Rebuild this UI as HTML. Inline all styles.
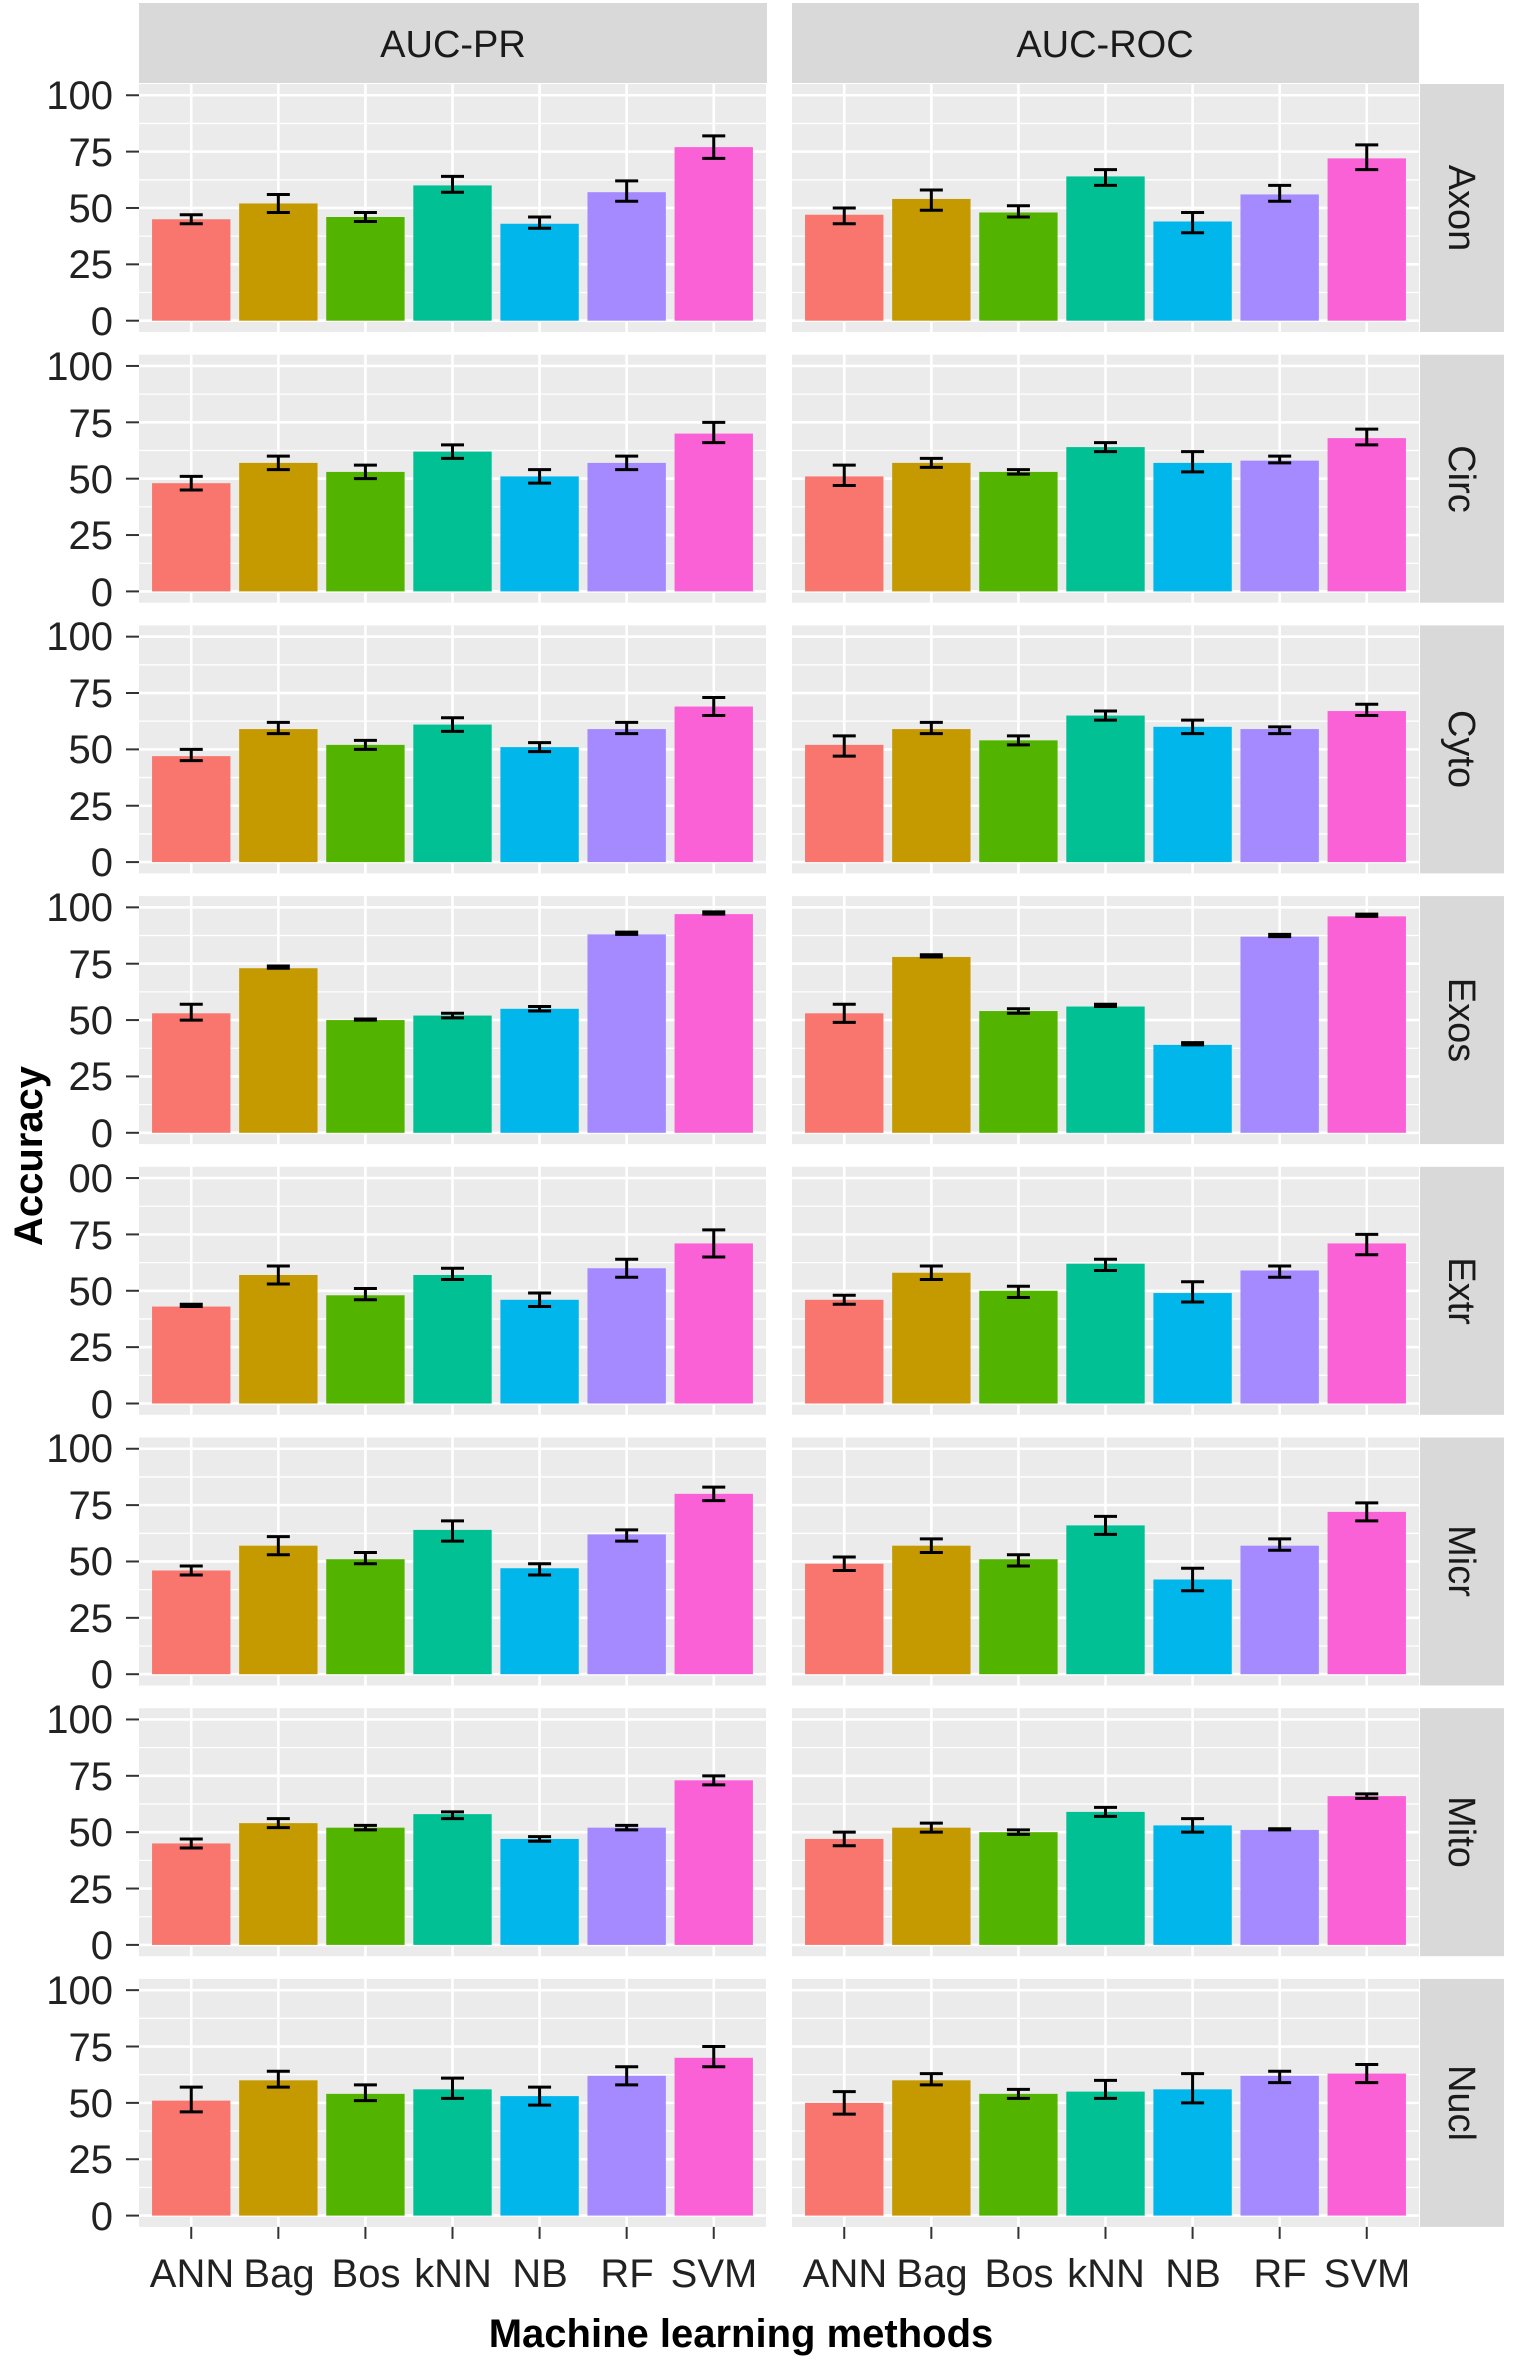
<!DOCTYPE html>
<html><head><meta charset="utf-8"><style>
html,body{margin:0;padding:0;background:#fff;}
svg{display:block;font-family:"Liberation Sans",Arial,sans-serif;}
</style></head><body>
<svg id="s" width="1517" height="2362" viewBox="0 0 1517 2362" xmlns="http://www.w3.org/2000/svg">
<g id="g"></g>
<g font-size="38" fill="#1a1a1a" text-anchor="middle">
<text x="453" y="57">AUC-PR</text>
<text x="1105" y="57">AUC-ROC</text>
</g>
<g font-size="38" fill="#1a1a1a" text-anchor="middle">
<text transform="translate(1449,208) rotate(90)">Axon</text>
<text transform="translate(1449,479) rotate(90)">Circ</text>
<text transform="translate(1449,749) rotate(90)">Cyto</text>
<text transform="translate(1449,1020) rotate(90)">Exos</text>
<text transform="translate(1449,1291) rotate(90)">Extr</text>
<text transform="translate(1449,1561) rotate(90)">Micr</text>
<text transform="translate(1449,1832) rotate(90)">Mito</text>
<text transform="translate(1449,2103) rotate(90)">Nucl</text>
</g>
<g font-size="40" fill="#222" text-anchor="middle">
<text x="192" y="2287">ANN</text><text x="279" y="2287">Bag</text><text x="366" y="2287">Bos</text><text x="453" y="2287">kNN</text><text x="540" y="2287">NB</text><text x="627" y="2287">RF</text><text x="714" y="2287">SVM</text>
<text x="845" y="2287">ANN</text><text x="932" y="2287">Bag</text><text x="1019" y="2287">Bos</text><text x="1106" y="2287">kNN</text><text x="1193" y="2287">NB</text><text x="1280" y="2287">RF</text><text x="1367" y="2287">SVM</text>
</g>
<text x="741" y="2347" font-size="40" font-weight="bold" text-anchor="middle" fill="#000">Machine learning methods</text>
<text transform="translate(42,1156) rotate(-90)" font-size="40" font-weight="bold" text-anchor="middle" fill="#000">Accuracy</text>
<g font-size="40" fill="#222" text-anchor="end">
<text x="113" y="109">100</text><text x="113" y="166">75</text><text x="113" y="222">50</text><text x="113" y="278">25</text><text x="113" y="335">0</text>
<text x="113" y="380">100</text><text x="113" y="437">75</text><text x="113" y="493">50</text><text x="113" y="549">25</text><text x="113" y="606">0</text>
<text x="113" y="650">100</text><text x="113" y="707">75</text><text x="113" y="763">50</text><text x="113" y="820">25</text><text x="113" y="876">0</text>
<text x="113" y="921">100</text><text x="113" y="978">75</text><text x="113" y="1034">50</text><text x="113" y="1090">25</text><text x="113" y="1147">0</text>
<text x="113" y="1192">00</text><text x="113" y="1249">75</text><text x="113" y="1305">50</text><text x="113" y="1361">25</text><text x="113" y="1418">0</text>
<text x="113" y="1462">100</text><text x="113" y="1519">75</text><text x="113" y="1575">50</text><text x="113" y="1632">25</text><text x="113" y="1688">0</text>
<text x="113" y="1733">100</text><text x="113" y="1790">75</text><text x="113" y="1846">50</text><text x="113" y="1903">25</text><text x="113" y="1959">0</text>
<text x="113" y="2004">100</text><text x="113" y="2061">75</text><text x="113" y="2117">50</text><text x="113" y="2173">25</text><text x="113" y="2230">0</text>
</g>
</svg>
<script>
var NS="http://www.w3.org/2000/svg",g=document.getElementById("g");
function el(t,a){var e=document.createElementNS(NS,t);for(var k in a)e.setAttribute(k,a[k]);g.appendChild(e);return e;}
var cols=["#F8766D","#C49A00","#53B400","#00C094","#00B6EB","#A58AFF","#FB61D7"];
var D=[
[[[45,43,47],[52,48,56],[46,44,48],[60,57,64],[43,41,46],[57,53,62],[77,72,82]],[[47,43,50],[54,49,58],[48,46,51],[64,60,67],[44,39,48],[56,53,60],[72,67,78]]],
[[[48,45,51],[57,54,60],[53,50,56],[62,59,65],[51,48,54],[57,54,60],[70,66,75]],[[51,47,56],[57,55,59],[53,52,54],[64,62,66],[57,53,62],[58,57,60],[68,65,72]]],
[[[47,45,50],[59,57,62],[52,50,54],[61,58,64],[51,49,53],[59,57,62],[69,65,73]],[[52,47,56],[59,57,62],[54,52,56],[65,63,67],[60,57,63],[59,57,60],[67,65,70]]],
[[[53,50,57],[73,73,74],[50,50,50.5],[52,51,53],[55,54,56],[88,88,89],[97,97,98]],[[53,49,57],[78,78,79],[54,53,55],[56,56,57],[39,39,40],[87,87,88],[96,96,97]]],
[[[43,43,44],[57,53,61],[48,46,51],[57,55,60],[46,43,49],[60,56,64],[71,65,77]],[[46,44,48],[58,55,61],[50,47,52],[62,59,64],[49,45,54],[59,56,61],[71,66,75]]],
[[[46,44,48],[57,53,61],[51,49,54],[64,59,68],[47,44,49],[62,59,64],[80,77,83]],[[49,46,52],[57,54,60],[51,48,53],[66,62,70],[42,37,47],[57,55,60],[72,68,76]]],
[[[45,43,47],[54,52,56],[52,51,53],[58,56,59],[47,46,48],[52,51,53],[73,71,75]],[[47,44,50],[52,50,54],[50,49,51],[59,57,61],[53,50,56],[51,51,51.5],[66,65,67]]],
[[[51,46,57],[60,57,64],[54,51,58],[56,52,61],[53,49,57],[62,58,66],[70,66,75]],[[50,45,55],[60,58,63],[54,52,56],[55,52,60],[56,50,63],[62,59,64],[63,59,67]]]
];
var W=627,u=W/7.2,H=248;
el("rect",{x:139,y:3,width:W+1,height:80,fill:"#d9d9d9"});
el("rect",{x:792,y:3,width:W,height:80,fill:"#d9d9d9"});
for(var k=0;k<8;k++){
 var T=84+270.7*k;
 var Y=function(v){return T+236.7-2.2545*v;};
 el("rect",{x:1420,y:T,width:84,height:H,fill:"#d9d9d9"});
 for(var v=0;v<=100;v+=25) el("line",{x1:126,x2:139,y1:Y(v),y2:Y(v),stroke:"#333","stroke-width":2});
 for(var p=0;p<2;p++){
  var L=p?792:139;
  el("rect",{x:L,y:T,width:W,height:H,fill:"#ebebeb"});
  for(var v=12.5;v<100;v+=25) el("line",{x1:L,x2:L+W,y1:Y(v),y2:Y(v),stroke:"#fff","stroke-width":1.3});
  for(var v=0;v<=100;v+=25) el("line",{x1:L,x2:L+W,y1:Y(v),y2:Y(v),stroke:"#fff","stroke-width":2.6});
  for(var i=0;i<7;i++){var cx=L+(0.6+i)*u;el("line",{x1:cx,x2:cx,y1:T,y2:T+H,stroke:"#fff","stroke-width":2.6});
   if(k==7) el("line",{x1:cx,x2:cx,y1:T+H,y2:T+H+12,stroke:"#333","stroke-width":2});}
  for(var i=0;i<7;i++){
   var d=D[k][p][i],cx=L+(0.6+i)*u,bw=0.9*u;
   el("rect",{x:cx-bw/2,y:Y(d[0]),width:bw,height:Y(0)-Y(d[0]),fill:cols[i]});
   var a=Y(d[1]),b=Y(d[2]);
   el("path",{d:"M"+(cx-11.5)+" "+a+"H"+(cx+11.5)+"M"+(cx-11.5)+" "+b+"H"+(cx+11.5)+"M"+cx+" "+a+"V"+b,stroke:"#000","stroke-width":3,fill:"none"});
  }
 }
}
</script>
</body></html>
